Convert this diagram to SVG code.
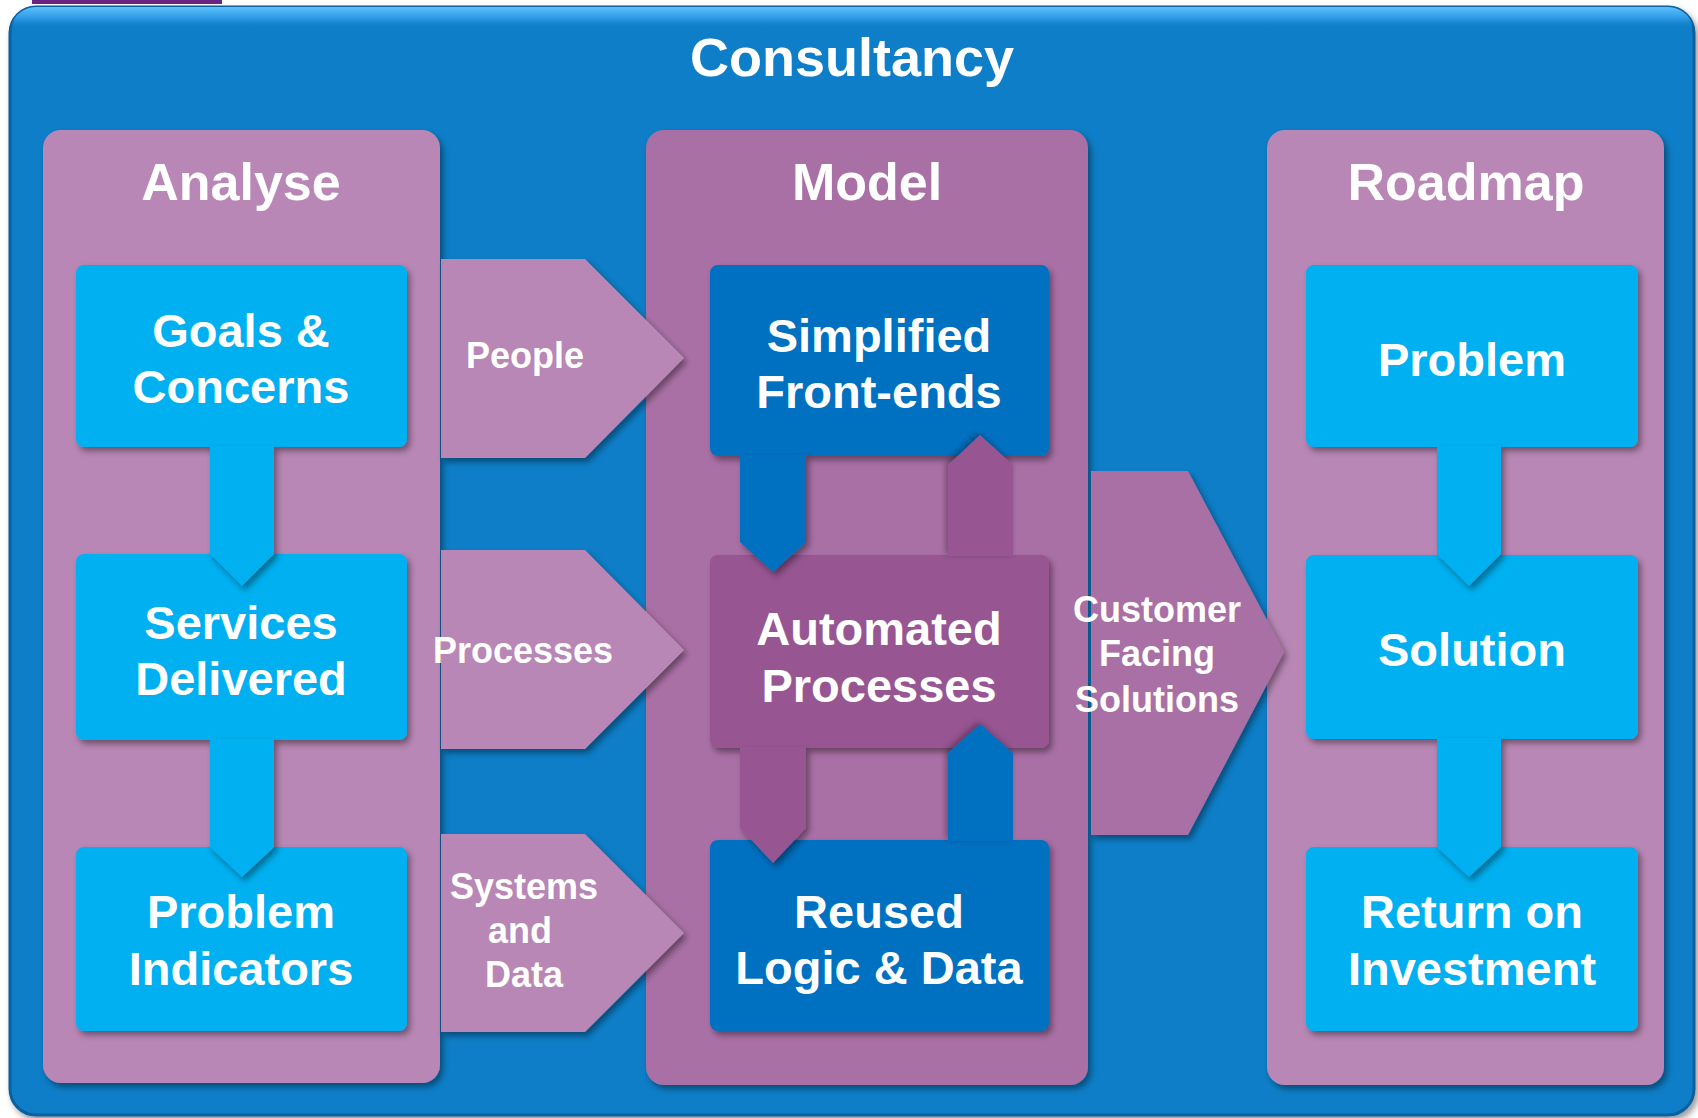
<svg xmlns="http://www.w3.org/2000/svg" width="1698" height="1118" viewBox="0 0 1698 1118">
  <defs>
    <style>
      .t { font-family: "Liberation Sans", Arial, sans-serif; font-weight: bold; fill: #FFFFFF; text-anchor: middle; }
      .title { font-size: 54px; }
      .hdr { font-size: 52px; }
      .box { font-size: 47px; }
      .lbl { font-size: 36px; }
      .colL { fill: #B887B5; }
      .colM { fill: #A96FA5; }
      .cyan { fill: #00B0F0; }
      .blue { fill: #0070C0; }
      .plum { fill: #975592; }
    </style>
    <filter id="sh" x="-10%" y="-10%" width="125%" height="125%">
      <feDropShadow dx="3" dy="4" stdDeviation="3" flood-color="#000000" flood-opacity="0.4"/>
    </filter>
    <filter id="shs" x="-20%" y="-20%" width="140%" height="140%">
      <feDropShadow dx="-2" dy="-2" stdDeviation="3" flood-color="#000000" flood-opacity="0.35"/>
    </filter>
    <linearGradient id="topHi" x1="0" y1="0" x2="0" y2="1">
      <stop offset="0" stop-color="#5CC0FA"/>
      <stop offset="0.5" stop-color="#2E9BE6"/>
      <stop offset="1" stop-color="#0F7EC7" stop-opacity="0"/>
    </linearGradient>
    <clipPath id="outerClip">
      <rect x="10" y="7" width="1684" height="1108" rx="26"/>
    </clipPath>
  </defs>

  <rect x="0" y="0" width="1698" height="1118" fill="#FFFFFF"/>
  <rect x="32" y="0" width="190" height="4" fill="#6A2385"/>

  <g id="consultancy">
    <rect x="10" y="7" width="1684" height="1108" rx="26" fill="#0F7EC7" stroke="#0A5E9E" stroke-width="3" filter="url(#sh)"/>
    <rect x="10" y="7" width="1684" height="22" fill="url(#topHi)" clip-path="url(#outerClip)"/>
    <text class="t title" x="852" y="76">Consultancy</text>
  </g>

  <g id="col-analyse">
    <rect class="colL" x="43" y="130" width="397" height="953" rx="18" filter="url(#sh)"/>
    <text class="t hdr" x="241" y="200">Analyse</text>
  </g>
  <g id="col-model">
    <rect class="colM" x="646" y="130" width="442" height="955" rx="18" filter="url(#sh)"/>
    <text class="t hdr" x="867" y="200">Model</text>
  </g>
  <g id="col-roadmap">
    <rect class="colL" x="1267" y="130" width="397" height="955" rx="18" filter="url(#sh)"/>
    <text class="t hdr" x="1466" y="200">Roadmap</text>
  </g>

  <g id="chevrons">
    <g id="chev-people">
      <polygon class="colL" points="441,259 585,259 684,358 585,458 441,458" filter="url(#sh)"/>
      <text class="t lbl" x="525" y="368">People</text>
    </g>
    <g id="chev-processes">
      <polygon class="colL" points="441,550 585,550 684,650 585,749 441,749" filter="url(#sh)"/>
      <text class="t lbl" x="523" y="663">Processes</text>
    </g>
    <g id="chev-systems">
      <polygon class="colL" points="441,834 585,834 684,933 585,1032 441,1032" filter="url(#sh)"/>
      <text class="t lbl" x="524" y="899">Systems</text>
      <text class="t lbl" x="520" y="943">and</text>
      <text class="t lbl" x="524" y="987">Data</text>
    </g>
    <g id="chev-customer">
      <polygon class="colM" points="1091,471 1188,471 1284,652 1188,835 1091,835" filter="url(#sh)"/>
      <text class="t lbl" x="1157" y="622">Customer</text>
      <text class="t lbl" x="1157" y="666">Facing</text>
      <text class="t lbl" x="1157" y="712">Solutions</text>
    </g>
  </g>

  <g id="goals">
    <rect class="cyan" x="76" y="265" width="331" height="182" rx="8" filter="url(#sh)"/>
    <text class="t box" x="241" y="347">Goals &amp;</text>
    <text class="t box" x="241" y="403">Concerns</text>
  </g>
  <g id="services">
    <rect class="cyan" x="76" y="554" width="331" height="186" rx="8" filter="url(#sh)"/>
    <text class="t box" x="241" y="639">Services</text>
    <text class="t box" x="241" y="695">Delivered</text>
  </g>
  <g id="indicators">
    <rect class="cyan" x="76" y="847" width="331" height="184" rx="8" filter="url(#sh)"/>
    <text class="t box" x="241" y="928">Problem</text>
    <text class="t box" x="241" y="985">Indicators</text>
  </g>

  <g id="frontends">
    <rect class="blue" x="710" y="265" width="339" height="191" rx="8" filter="url(#sh)"/>
    <text class="t box" x="879" y="352">Simplified</text>
    <text class="t box" x="879" y="408">Front-ends</text>
  </g>
  <g id="automated">
    <rect class="plum" x="710" y="555" width="339" height="193" rx="8" filter="url(#sh)"/>
    <text class="t box" x="879" y="645">Automated</text>
    <text class="t box" x="879" y="702">Processes</text>
  </g>
  <g id="reused">
    <rect class="blue" x="710" y="840" width="339" height="191" rx="8" filter="url(#sh)"/>
    <text class="t box" x="879" y="928">Reused</text>
    <text class="t box" x="879" y="984">Logic &amp; Data</text>
  </g>

  <g id="problem">
    <rect class="cyan" x="1306" y="265" width="332" height="182" rx="8" filter="url(#sh)"/>
    <text class="t box" x="1472" y="376">Problem</text>
  </g>
  <g id="solution">
    <rect class="cyan" x="1306" y="555" width="332" height="184" rx="8" filter="url(#sh)"/>
    <text class="t box" x="1472" y="666">Solution</text>
  </g>
  <g id="roi">
    <rect class="cyan" x="1306" y="847" width="332" height="184" rx="8" filter="url(#sh)"/>
    <text class="t box" x="1472" y="928">Return on</text>
    <text class="t box" x="1472" y="985">Investment</text>
  </g>

  <g id="connectors">
    <polygon class="cyan" points="210,446 274,446 274,554 242,586 210,554" filter="url(#sh)"/>
    <polygon class="cyan" points="210,739 274,739 274,847 242,877 210,847" filter="url(#sh)"/>
    <polygon class="cyan" points="1437,446 1501,446 1501,554 1469,586 1437,554" filter="url(#sh)"/>
    <polygon class="cyan" points="1437,738 1501,738 1501,847 1469,877 1437,847" filter="url(#sh)"/>
    <polygon class="blue" points="740,455 806,455 806,542 773,572 740,542" filter="url(#sh)"/>
    <polygon class="plum" points="948,556 948,465 980,435 1013,465 1013,556" filter="url(#shs)"/>
    <polygon class="plum" points="740,747 806,747 806,828 773,863 740,828" filter="url(#sh)"/>
    <polygon class="blue" points="948,841 948,753 980,724 1013,753 1013,841" filter="url(#shs)"/>
  </g>
</svg>
